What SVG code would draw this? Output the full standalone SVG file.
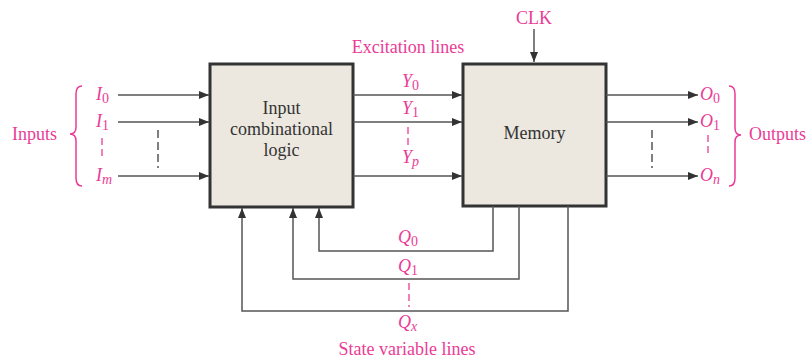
<svg xmlns="http://www.w3.org/2000/svg" width="808" height="362" viewBox="0 0 808 362">
  <defs>
    <marker id="arrow" markerUnits="userSpaceOnUse" markerWidth="10" markerHeight="8" refX="10" refY="4" orient="auto">
      <path d="M0,0 L10,4 L0,8 z" fill="#333"/>
    </marker>
    <style>
      .box { fill: #ece8df; stroke: #333; stroke-width: 3; }
      .wire { fill: none; stroke: #555; stroke-width: 1.5; }
      .arr { marker-end: url(#arrow); }
      .gdash { stroke: #555; stroke-width: 1.5; stroke-dasharray: 8 4; }
      .pdash { stroke: #ea3c96; stroke-width: 1.3; stroke-dasharray: 7 4; }
      .brace { fill: none; stroke: #ea3c96; stroke-width: 1.5; }
      .lbl { font-family: "Liberation Serif", "Times New Roman", serif; font-size: 18px; fill: #ea3c96; }
      .var { font-family: "Liberation Serif", "Times New Roman", serif; font-size: 18px; font-style: italic; fill: #ea3c96; }
      .sub { font-style: normal; font-size: 14px; }
      .isub { font-style: italic; font-size: 14px; }
      .boxtxt { font-family: "Liberation Serif", "Times New Roman", serif; font-size: 18px; fill: #333; text-anchor: middle; }
    </style>
  </defs>
  <rect width="808" height="362" fill="#ffffff"/>

  <!-- Input combinational logic block -->
  <g id="logic">
    <rect class="box" x="210" y="64" width="143" height="143"/>
    <text class="boxtxt" x="281.5" y="114">Input</text>
    <text class="boxtxt" x="281.5" y="135">combinational</text>
    <text class="boxtxt" x="281.5" y="156">logic</text>
  </g>

  <!-- Memory block -->
  <g id="memory">
    <rect class="box" x="463" y="64" width="143" height="142"/>
    <text class="boxtxt" x="534.5" y="139">Memory</text>
  </g>

  <!-- Connectors -->
  <g id="connectors">
    <!-- inputs -->
    <line class="wire arr" x1="118" y1="95" x2="209" y2="95"/>
    <line class="wire arr" x1="118" y1="122" x2="209" y2="122"/>
    <line class="wire arr" x1="118" y1="176" x2="209" y2="176"/>
    <line class="gdash" x1="158" y1="130" x2="158" y2="168"/>
    <!-- excitation lines -->
    <line class="wire arr" x1="353" y1="95" x2="462" y2="95"/>
    <line class="wire arr" x1="353" y1="122" x2="462" y2="122"/>
    <line class="wire arr" x1="353" y1="176" x2="462" y2="176"/>
    <!-- clock -->
    <line class="wire arr" x1="534" y1="29" x2="534" y2="62"/>
    <!-- outputs -->
    <line class="wire arr" x1="606" y1="95" x2="698" y2="95"/>
    <line class="wire arr" x1="606" y1="122" x2="698" y2="122"/>
    <line class="wire arr" x1="606" y1="176" x2="698" y2="176"/>
    <line class="gdash" x1="652" y1="130" x2="652" y2="168"/>
    <!-- state variable feedback -->
    <polyline class="wire arr" points="493,206 493,251 319,251 319,208"/>
    <polyline class="wire arr" points="519,206 519,279 293,279 293,208"/>
    <polyline class="wire arr" points="568,206 568,311 242,311 242,208"/>
  </g>

  <!-- Input labels -->
  <g id="inputs">
    <path class="brace" d="M82,86 Q76,86 76,94 L76,127 Q76,134 70,134 Q76,134 76,141 L76,178 Q76,186 82,186"/>
    <text class="lbl" x="12" y="140">Inputs</text>
    <text class="var" x="96" y="100">I<tspan class="sub" dy="3">0</tspan></text>
    <text class="var" x="96" y="127">I<tspan class="sub" dy="3">1</tspan></text>
    <line class="pdash" x1="102" y1="138" x2="102" y2="160"/>
    <text class="var" x="96" y="181">I<tspan class="isub" dy="3">m</tspan></text>
  </g>

  <!-- Excitation labels -->
  <g id="excitation">
    <text class="lbl" x="408" y="53" text-anchor="middle">Excitation lines</text>
    <text class="var" x="402" y="87">Y<tspan class="sub" dy="3">0</tspan></text>
    <text class="var" x="402" y="114">Y<tspan class="sub" dy="3">1</tspan></text>
    <line class="pdash" x1="408" y1="127" x2="408" y2="145"/>
    <text class="var" x="402" y="163">Y<tspan class="isub" dy="3">p</tspan></text>
  </g>

  <!-- Clock label -->
  <g id="clk">
    <text class="lbl" x="534" y="24" text-anchor="middle">CLK</text>
  </g>

  <!-- Output labels -->
  <g id="outputs">
    <text class="var" x="700" y="100">O<tspan class="sub" dy="3">0</tspan></text>
    <text class="var" x="700" y="127">O<tspan class="sub" dy="3">1</tspan></text>
    <line class="pdash" x1="708" y1="135" x2="708" y2="157"/>
    <text class="var" x="700" y="181">O<tspan class="isub" dy="3">n</tspan></text>
    <path class="brace" d="M729,86 Q735,86 735,94 L735,128 Q735,135 741,135 Q735,135 735,142 L735,178 Q735,186 729,186"/>
    <text class="lbl" x="749" y="140">Outputs</text>
  </g>

  <!-- State variable labels -->
  <g id="state">
    <text class="var" x="398" y="243">Q<tspan class="sub" dy="3">0</tspan></text>
    <text class="var" x="398" y="272">Q<tspan class="sub" dy="3">1</tspan></text>
    <line class="pdash" x1="409" y1="283" x2="409" y2="307"/>
    <text class="var" x="398" y="328">Q<tspan class="isub" dy="3">x</tspan></text>
    <text class="lbl" x="407" y="355" text-anchor="middle">State variable lines</text>
  </g>
</svg>
